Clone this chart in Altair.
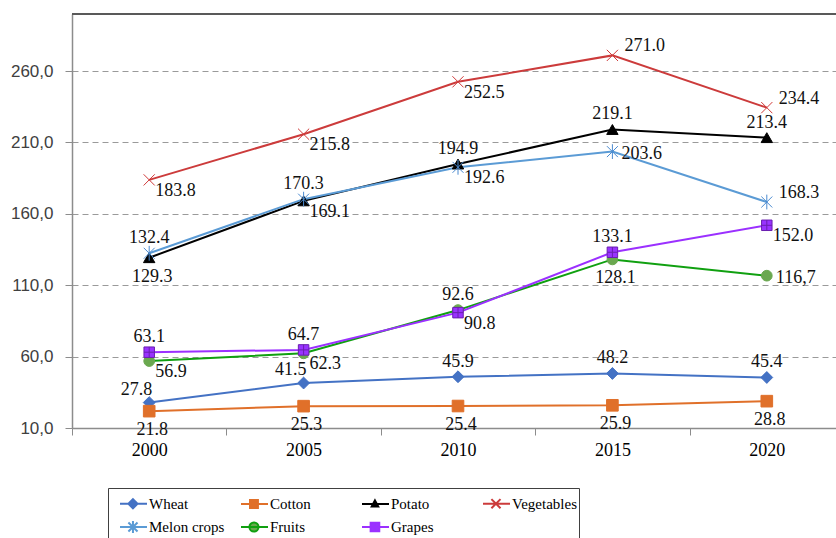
import altair as alt
import pandas as pd

# ---------------- data ----------------
years = [2000, 2005, 2010, 2015, 2020]
series_names = ["Wheat", "Cotton", "Potato", "Vegetables", "Melon crops", "Fruits", "Grapes"]
wheat = [27.8, 41.5, 45.9, 48.2, 45.4]
cotton = [21.8, 25.3, 25.4, 25.9, 28.8]
potato = [129.3, 169.1, 194.9, 219.1, 213.4]
vegetables = [183.8, 215.8, 252.5, 271.0, 234.4]
melon_crops = [132.4, 170.3, 192.6, 203.6, 168.3]
fruits = [56.9, 62.3, 92.6, 128.1, 116.7]
grapes = [63.1, 64.7, 90.8, 133.1, 152.0]
y_ticks = [10, 60, 110, 160, 210, 260]
label_overrides = {("Fruits", 2020): "116,7"}

series_values = {
    "Wheat": wheat, "Cotton": cotton, "Potato": potato, "Vegetables": vegetables,
    "Melon crops": melon_crops, "Fruits": fruits, "Grapes": grapes,
}

# label placement keyword per point (layout only)
label_places = {
    "Wheat": ["above-left", "above-left", "above", "above", "above"],
    "Cotton": ["below", "below", "below", "below", "below"],
    "Potato": ["below", "below-right", "above", "above", "above"],
    "Vegetables": ["below-right", "below-right", "below-right", "above-right", "above-right"],
    "Melon crops": ["above", "above", "below-right", "right", "above-right"],
    "Fruits": ["below-right", "below-right", "above", "below", "right"],
    "Grapes": ["above", "above", "below-right", "above", "below-right"],
}

rows = []
for name in series_names:
    for i, yr in enumerate(years):
        v = series_values[name][i]
        rows.append({
            "series": name,
            "year": str(yr),
            "value": v,
            "label": label_overrides.get((name, yr), f"{v:.1f}"),
            "place": label_places[name][i],
        })
df = pd.DataFrame(rows)

# ---------------- styles ----------------
line_colors = ["#4472C4", "#E0702A", "#000000", "#CC3B3B", "#5B9BD5", "#10A010", "#9B30FF"]
line_widths = [2, 2, 2.5, 1.2, 2.5, 2, 2]
marker_fills = ["#4472C4", "#E0702A", "#000000", "transparent", "transparent", "#6AA84F", "#9933FF"]
marker_strokes = ["#4472C4", "#E0702A", "#000000", "#D03A3A", "#4A8AD0", "#6AA84F", "#6A1FB0"]
marker_stroke_widths = [1, 1, 1, 1.2, 1.4, 1, 1]
marker_shapes = [
    "diamond",
    "square",
    "triangle-up",
    "M-1,-1L1,1M-1,1L1,-1",
    "M-1,-1L1,1M-1,1L1,-1M0,-1.35V1.35",
    "circle",
    "M-1,-1H1V1H-1ZM0,-1V1M-1,0H1",
]
marker_sizes = [140, 110, 55, 150, 140, 125, 150]

# legend symbols: line + marker in one path
legend_shapes = [
    "M-0.25,0H2.0M0.83,-0.38L1.21,0L0.83,0.38L0.45,0Z",
    "M-0.25,0H2.0M0.5,-0.33H1.16V0.33H0.5Z",
    "M-0.25,0H2.0M0.83,-0.3L1.1,0.2H0.56Z",
    "M-0.25,0H2.0M0.45,-0.38L1.21,0.38M0.45,0.38L1.21,-0.38",
    "M-0.25,0H2.0M0.45,-0.38L1.21,0.38M0.45,0.38L1.21,-0.38M0.83,-0.5V0.5",
    "M-0.25,0H2.0M0.45,0A0.38,0.38 0 1,0 1.21,0A0.38,0.38 0 1,0 0.45,0Z",
    "M-0.25,0H2.0M0.47,-0.36H1.19V0.36H0.47ZM0.83,-0.36V0.36",
]

SERIF = "Liberation Serif"
SANS = "Liberation Sans"

x_enc = alt.X(
    "year:O",
    bandPosition=0.5,
    scale=alt.Scale(type="band", paddingInner=0, paddingOuter=0, range=[0, 772]),
    axis=alt.Axis(
        title=None, labelAngle=0, tickBand="extent", grid=False,
        labelFont=SERIF, labelFontSize=18, labelColor="#000000", labelPadding=6,
        domainColor="#8c8c8c", domainWidth=1.5, tickColor="#8c8c8c", tickSize=7,
    ),
)
y_enc = alt.Y(
    "value:Q",
    scale=alt.Scale(domain=[10, 300], nice=False, zero=False),
    axis=alt.Axis(
        title=None, values=y_ticks,
        labelExpr="replace(format(datum.value, '.1f'), '.', ',')",
        labelFont=SANS, labelFontSize=17, labelColor="#404040", labelPadding=12,
        grid=True, gridDash=[6, 4], gridColor="#9a9a9a", gridWidth=1,
        domainColor="#8c8c8c", domainWidth=1.5, tickColor="#8c8c8c", tickSize=7,
    ),
)

base = alt.Chart(df)

top_border = alt.Chart(pd.DataFrame({"v": [300]})).mark_rule(
    color="#595959", strokeWidth=2
).encode(y=alt.Y("v:Q"))

lines = base.mark_line().encode(
    x=x_enc, y=y_enc,
    stroke=alt.Stroke("series:N", scale=alt.Scale(domain=series_names, range=line_colors), legend=None),
    strokeWidth=alt.StrokeWidth("series:N", scale=alt.Scale(domain=series_names, range=line_widths), legend=None),
    order=alt.Order("year:O"),
)

points = base.mark_point(opacity=1).encode(
    x=x_enc, y=y_enc,
    shape=alt.Shape("series:N", scale=alt.Scale(domain=series_names, range=marker_shapes), legend=None),
    fill=alt.Fill("series:N", scale=alt.Scale(domain=series_names, range=marker_fills), legend=None),
    stroke=alt.Stroke("series:N", scale=alt.Scale(domain=series_names, range=marker_strokes), legend=None),
    strokeWidth=alt.StrokeWidth("series:N", scale=alt.Scale(domain=series_names, range=marker_stroke_widths), legend=None),
    size=alt.Size("series:N", scale=alt.Scale(domain=series_names, range=marker_sizes), legend=None),
)

placements = {
    "above": dict(align="center", dx=0, dy=-15),
    "above-left": dict(align="right", dx=3, dy=-13),
    "below": dict(align="center", dx=3, dy=19),
    "below-right": dict(align="left", dx=6, dy=11),
    "above-right": dict(align="left", dx=12, dy=-9),
    "right": dict(align="left", dx=9, dy=2),
}
text_layers = []
for key, p in placements.items():
    text_layers.append(
        base.transform_filter(alt.datum.place == key).mark_text(
            font=SERIF, fontSize=18, color="#111111", baseline="middle", **p
        ).encode(x=x_enc, y=y_enc, text="label:N")
    )

legend_def = alt.Legend(
    title=None, orient="none", legendX=36, legendY=474, columns=4, direction="horizontal",
)
legend_layer = base.transform_filter("false").mark_point(opacity=1).encode(
    x=x_enc, y=y_enc,
    shape=alt.Shape("series:N", scale=alt.Scale(domain=series_names, range=legend_shapes), legend=legend_def),
    fill=alt.Fill("series:N", scale=alt.Scale(domain=series_names, range=marker_fills), legend=legend_def),
    stroke=alt.Stroke("series:N", scale=alt.Scale(domain=series_names, range=line_colors), legend=legend_def),
)

chart = alt.layer(top_border, lines, points, *text_layers, legend_layer).resolve_scale(
    shape="independent", fill="independent", stroke="independent",
    size="independent", strokeWidth="independent",
).properties(
    width=764, height=414,
    autosize=alt.AutoSizeParams(type="none"),
    padding={"left": 72, "top": 14, "right": 0, "bottom": 110},
    background="white",
).configure_view(stroke=None).configure_legend(
    gridAlign="all", columnPadding=6, rowPadding=1, padding=2,
    labelFont=SERIF, labelFontSize=15, labelColor="#000000", labelOffset=13, labelLimit=200,
    symbolSize=576, symbolStrokeWidth=2,
    strokeColor="#404040", fillColor="#ffffff",
)

chart.save("out.html", embed_options={"renderer": "svg", "actions": False})
